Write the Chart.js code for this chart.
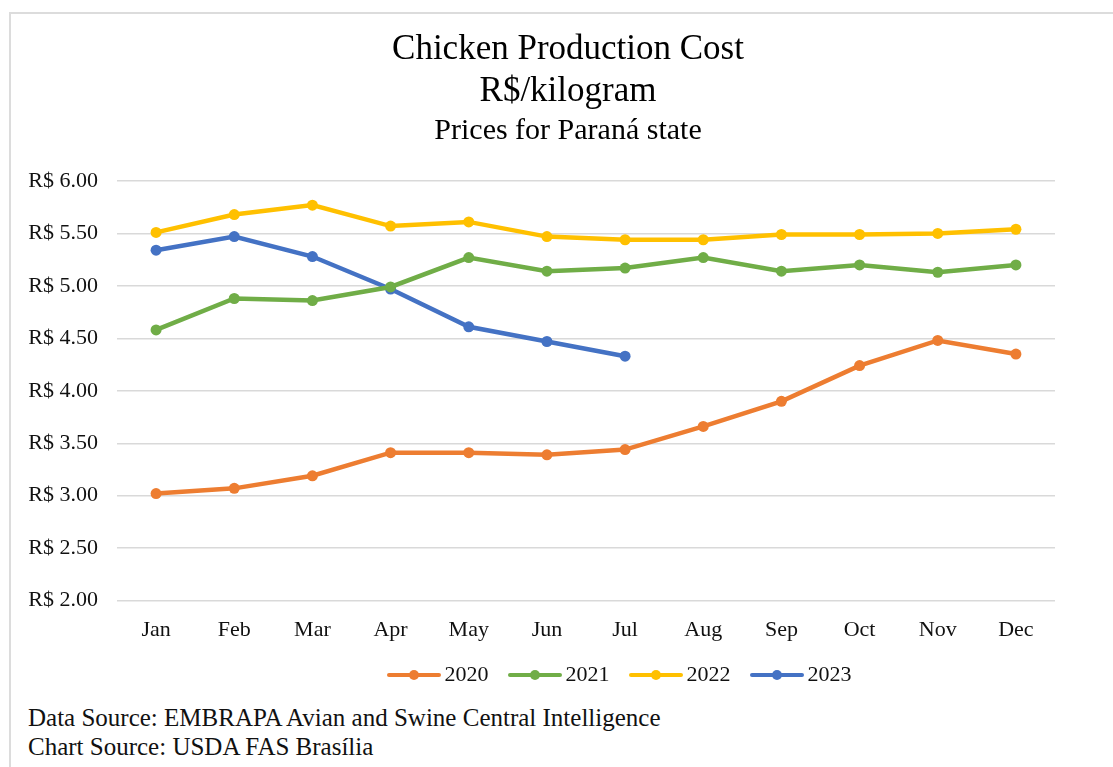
<!DOCTYPE html>
<html>
<head>
<meta charset="utf-8">
<title>Chicken Production Cost</title>
<script src="https://cdn.jsdelivr.net/npm/chart.js@4.4.1/dist/chart.umd.min.js"></script>
<style>
  html, body { margin: 0; padding: 0; background: #fff; overflow: hidden; }
  body { width: 1113px; height: 767px; position: relative; }
  #marco { position: absolute; left: 9px; top: 12px; width: 1200px; height: 900px;
           border-top: 2px solid #dcdcdc; border-left: 2px solid #dcdcdc; }
  #grafico { position: absolute; left: 9px; top: 0; }
  .fuente { position: absolute; left: 28px; font-family: "Liberation Serif", "Times New Roman", serif;
            font-size: 25px; line-height: 29px; color: #111; white-space: nowrap; }
</style>
</head>
<body>
<div id="marco"></div>
<canvas id="grafico" width="1118" height="700"></canvas>
<div class="fuente" style="top: 703px;">Data Source: EMBRAPA Avian and Swine Central Intelligence</div>
<div class="fuente" style="top: 732px;">Chart Source: USDA FAS Brasília</div>
<script>
// --- DATOS (R$/kg) ---
const meses = ["Jan", "Feb", "Mar", "Apr", "May", "Jun", "Jul", "Aug", "Sep", "Oct", "Nov", "Dec"];
const anios = ["2020", "2021", "2022", "2023"];
const costo2020 = [3.02, 3.07, 3.19, 3.41, 3.41, 3.39, 3.44, 3.66, 3.90, 4.24, 4.48, 4.35];
const costo2021 = [4.58, 4.88, 4.86, 4.99, 5.27, 5.14, 5.17, 5.27, 5.14, 5.20, 5.13, 5.20];
const costo2022 = [5.51, 5.68, 5.77, 5.57, 5.61, 5.47, 5.44, 5.44, 5.49, 5.49, 5.50, 5.54];
const costo2023 = [5.34, 5.47, 5.28, 4.97, 4.61, 4.47, 4.33];
const colores = ["#ED7D31", "#70AD47", "#FFC000", "#4472C4"];

const fuente = '"Liberation Serif", "Times New Roman", serif';
const anchoCaja = 61; // ancho reservado para el marcador en la leyenda

// marcador de leyenda: línea con punto (como Excel), pegado al texto
function marcador(color) {
    const c = document.createElement("canvas");
    c.width = 78; c.height = 12;
    const ctx = c.getContext("2d");
    ctx.strokeStyle = color;
    ctx.lineWidth = 4;
    ctx.lineCap = "round";
    ctx.beginPath();
    ctx.moveTo(25, 6); ctx.lineTo(75, 6);
    ctx.stroke();
    ctx.fillStyle = color;
    ctx.beginPath();
    ctx.arc(50, 6, 5, 0, Math.PI * 2);
    ctx.fill();
    return c;
}

// la leyenda de Excel no está centrada con el título: la corremos a la derecha
const moverLeyenda = {
    id: "moverLeyenda",
    afterLayout(chart) {
        const ley = chart.legend;
        if (ley) { ley.left += 44; ley.right += 44; }
    }
};

const series = [costo2020, costo2021, costo2022, costo2023];
const datasets = series.map((valores, i) => ({
    label: anios[i],
    data: valores,
    borderColor: colores[i],
    backgroundColor: colores[i],
    borderWidth: 4.5,
    pointRadius: 5.5,
    pointHoverRadius: 5.5,
    pointBackgroundColor: colores[i],
    pointBorderWidth: 0,
    tension: 0,
    fill: false
}));

new Chart(document.getElementById("grafico"), {
    type: "line",
    data: { labels: meses, datasets: datasets },
    plugins: [moverLeyenda],
    options: {
        responsive: false,
        animation: false,
        events: [],
        layout: { padding: { left: 0, right: 0, top: 0, bottom: 4 } },
        plugins: {
            title: {
                display: true,
                text: ["Chicken Production Cost", "R$/kilogram"],
                color: "#000",
                font: { family: fuente, size: 35, weight: "normal", lineHeight: 1.2 },
                padding: { top: 29, bottom: 0 }
            },
            subtitle: {
                display: true,
                text: "Prices for Paraná state",
                color: "#000",
                font: { family: fuente, size: 30, weight: "normal", lineHeight: 1.2 },
                padding: { top: 0, bottom: 32 }
            },
            legend: {
                position: "bottom",
                labels: {
                    usePointStyle: true,
                    pointStyleWidth: anchoCaja,
                    padding: 5,
                    color: "#111",
                    font: { family: fuente, size: 22 },
                    generateLabels: (chart) => chart.data.datasets.map((ds, i) => ({
                        text: ds.label,
                        pointStyle: marcador(colores[i]),
                        fillStyle: colores[i],
                        strokeStyle: colores[i],
                        lineWidth: 0,
                        fontColor: "#111",
                        datasetIndex: i
                    }))
                }
            },
            tooltip: { enabled: false }
        },
        scales: {
            x: {
                offset: true,
                grid: { display: false, drawTicks: false },
                border: { display: false },
                ticks: { color: "#111", font: { family: fuente, size: 22 }, padding: 16, maxRotation: 0 }
            },
            y: {
                min: 2,
                max: 6,
                grid: { color: "#d9d9d9", lineWidth: 1.5, drawTicks: false },
                border: { display: false },
                afterFit: (scale) => { scale.width = 108; },
                ticks: {
                    stepSize: 0.5,
                    padding: 19,
                    color: "#111",
                    font: { family: fuente, size: 22 },
                    callback: (v) => "R$ " + Number(v).toFixed(2)
                }
            },
            // eje vacío a la derecha, solo deja el margen de Excel
            derecha: {
                type: "linear",
                position: "right",
                grid: { display: false, drawTicks: false },
                border: { display: false },
                ticks: { display: false },
                afterFit: (scale) => { scale.width = 72; }
            }
        }
    }
});
</script>
</body>
</html>
